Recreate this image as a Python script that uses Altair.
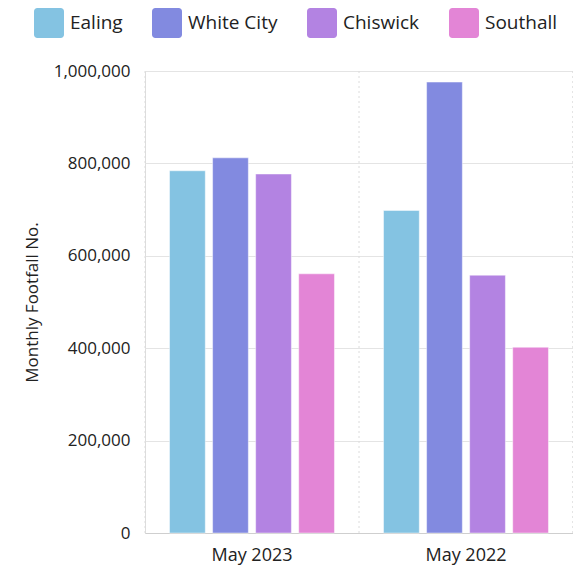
import altair as alt
import pandas as pd

periods = ["May 2023", "May 2022"]
locations = ["Ealing", "White City", "Chiswick", "Southall"]
may_2023 = [784000, 812000, 777000, 561000]
may_2022 = [698000, 976000, 558000, 402000]
colors = ["#84C3E2", "#828AE0", "#B383E2", "#E385D6"]
y_ticks = [0, 200000, 400000, 600000, 800000, 1000000]

rows = []
for loc, v in zip(locations, may_2023):
    rows.append({"period": periods[0], "location": loc, "value": v})
for loc, v in zip(locations, may_2022):
    rows.append({"period": periods[1], "location": loc, "value": v})
df = pd.DataFrame(rows)
periods_df = pd.DataFrame({"period": periods})

FONT = "Open Sans"
rounded = ("M-0.78,-1H0.78A0.22,0.22 0 0 1 1,-0.78V0.78A0.22,0.22 0 0 1 0.78,1"
           "H-0.78A0.22,0.22 0 0 1 -1,0.78V-0.78A0.22,0.22 0 0 1 -0.78,-1Z")

x_scale = alt.Scale(domain=periods, paddingInner=0, paddingOuter=0)

bars = alt.Chart(df).mark_bar(stroke="white", strokeOpacity=0.45, strokeWidth=1).encode(
    x=alt.X("period:N", sort=periods, scale=x_scale,
            axis=alt.Axis(title=None, labelAngle=0, grid=False, ticks=False,
                          domain=True, domainColor="#cfcfcf", domainWidth=1,
                          labelPadding=13, labelFontSize=18, labelColor="#222222",
                          labelFont=FONT)),
    xOffset=alt.XOffset("location:N", sort=locations,
                        scale=alt.Scale(domain=locations, paddingInner=0.17, paddingOuter=0.57)),
    y=alt.Y("value:Q", scale=alt.Scale(domain=[0, 1000000], nice=False),
            axis=alt.Axis(values=y_ticks, format=",.0f", grid=True, gridColor="#e4e4e4",
                          gridWidth=1, domain=False, ticks=False, labelPadding=15,
                          labelFontSize=17, labelColor="#222222", labelFont=FONT,
                          title="Monthly Footfall No.", titleFontSize=17,
                          titleFontWeight="normal", titleColor="#222222", titleFont=FONT,
                          titleX=-113, titleY=231, titleAngle=270, titleBaseline="middle",
                          titleAlign="center")),
    color=alt.Color("location:N", sort=locations,
                    scale=alt.Scale(domain=locations, range=colors),
                    legend=alt.Legend(title=None, orient="none", legendX=-111, legendY=-63,
                                      direction="horizontal", columns=4, padding=0,
                                      symbolType=rounded, symbolSize=900,
                                      symbolStrokeWidth=0, symbolOpacity=1,
                                      labelFontSize=19, labelFont=FONT, labelColor="#222222",
                                      labelOffset=6, columnPadding=29)),
)

vlines = alt.Chart(periods_df).mark_rule(strokeDash=[2, 3], color="#dcdcdc", strokeWidth=1).encode(
    x=alt.X("period:N", sort=periods, scale=x_scale, bandPosition=0, axis=None)
)
vline_end = alt.Chart(periods_df).mark_rule(strokeDash=[2, 3], color="#dcdcdc", strokeWidth=1).encode(
    x=alt.X(datum=periods[-1], bandPosition=1, axis=None)
)

chart = alt.layer(bars, vlines, vline_end).resolve_axis(x="independent").properties(
    width=428, height=462,
    autosize=alt.AutoSizeParams(type="none"),
    padding={"left": 137, "top": 63, "right": 0, "bottom": 38},
).configure_view(stroke=None).configure(background="white")

chart.save("out.html", embed_options={"renderer": "svg", "actions": False})
